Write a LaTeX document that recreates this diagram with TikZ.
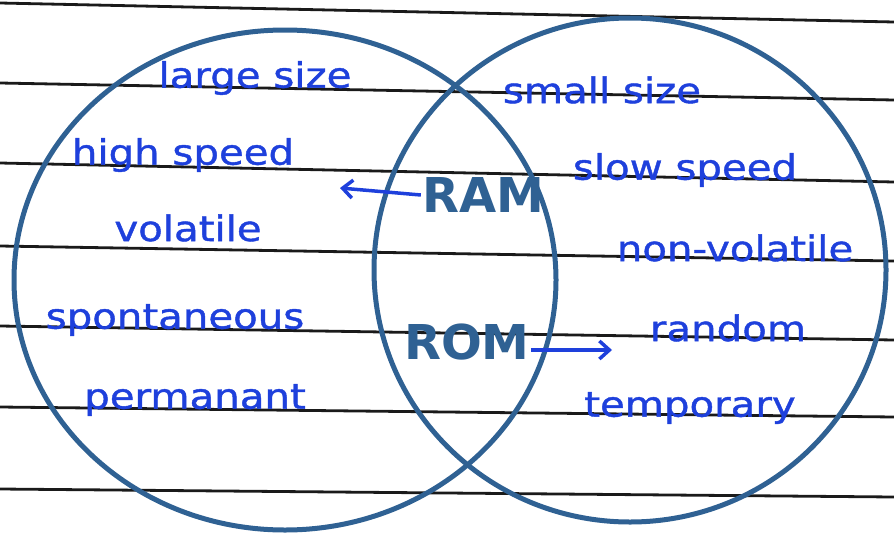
\documentclass[tikz,border=0pt]{standalone}
\usepackage{fontspec}
\setmainfont{DejaVu Sans}
\newfontfamily\handfont[FakeStretch=1.15,FakeBold=1.2]{DejaVu Sans}
\usetikzlibrary{shapes.geometric,arrows.meta,positioning}
\definecolor{inkblue}{HTML}{1E40DC}
\definecolor{steel}{HTML}{2F6193}
\definecolor{ruled}{HTML}{1A1A1A}

\begin{document}
\begin{tikzpicture}[x=1pt,y=-1pt,
  note/.style={text=inkblue,font=\handfont\fontsize{35}{40}\selectfont,inner sep=1pt},
  chip/.style={text=steel,font=\fontsize{48}{54}\selectfont\bfseries,inner sep=1pt},
  ring/.style={ellipse,draw=steel,line width=5pt},
  pointer/.style={draw=inkblue,line width=3.5pt,-{Straight Barb[length=10pt,width=18pt]}}]
\useasboundingbox (0,0) rectangle (894,533);
% ruled paper
\foreach \yl/\yr in {3/22,83/100,163/182,246/261,326/340,407/417,489/497}
  \draw[ruled,line width=2.8pt] (0,\yl) -- (894,\yr);
% the two sets
\node[ring,minimum width=542,minimum height=500] (left) at (285,280) {};
\node[ring,minimum width=512,minimum height=504] (right) at (630,270) {};
% left set
\node[note] (large) at (255,78) {large size};
\node[note] (high) at (183,155) {high speed};
\node[note] (vol) at (188,228) {volatile};
\node[note] (spont) at (175,320) {spontaneous};
\node[note] (perm) at (195,400) {permanant};
% right set
\node[note] (small) at (602,90) {small size};
\node[note] (slow) at (685,170) {slow speed};
\node[note] (nonvol) at (735,248) {non-volatile};
\node[note] (rand) at (728,328) {random};
\node[note] (temp) at (690,408) {temporary};
% middle
\node[chip] (ram) at (483,195) {RAM};
\node[chip] (rom) at (467,342) {ROM};
\coordinate (ramend) at (340,188);
\coordinate (romend) at (612,350);
\draw[pointer] (ram.west) -- (ramend);
\draw[pointer] (rom.east |- romend) -- (romend);
\end{tikzpicture}
\end{document}
